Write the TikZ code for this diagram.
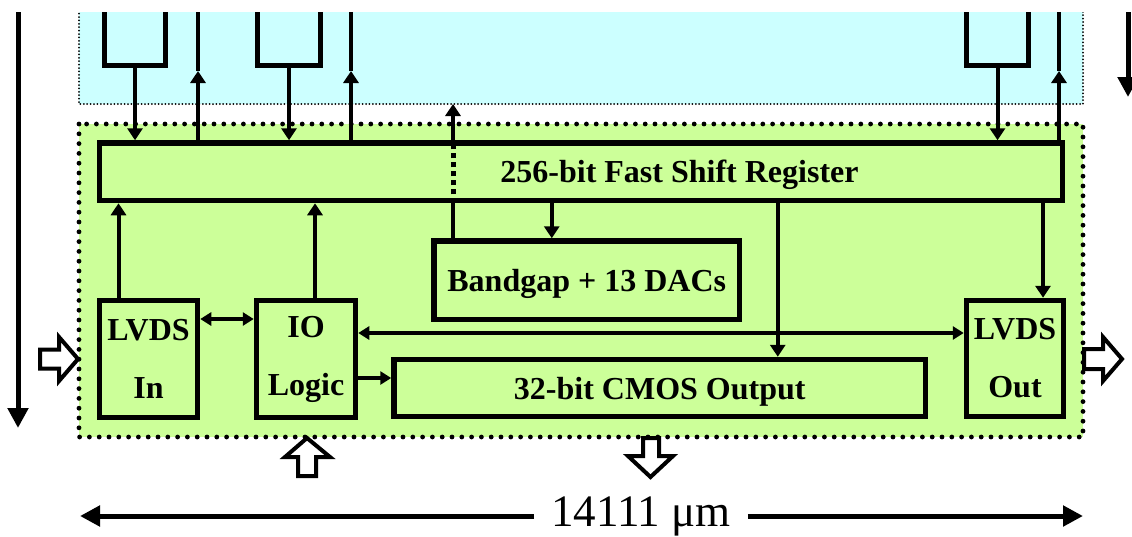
\documentclass[tikz,border=0pt]{standalone}
\usepackage{fontspec}
\setmainfont{Liberation Serif}
\usepackage{xcolor}
\usetikzlibrary{arrows.meta}

\definecolor{chipcyan}{HTML}{CCFFFF}
\definecolor{chipgreen}{HTML}{CCFF99}

\begin{document}
\begin{tikzpicture}[
  x=1pt, y=-1pt,
  font=\fontsize{32}{58}\selectfont\bfseries,
  blk/.style={rectangle, draw, line width=5.5pt, fill=chipgreen, inner sep=0pt, align=center},
  one/.style={text height=22pt, text depth=0pt},
  pix/.style={rectangle, draw, line width=5.5pt, fill=chipcyan, minimum height=80pt},
  link/.style={line width=4pt},
  arrow/.style={-{Triangle[length=12pt, width=15pt]}, line width=4pt},
  sarrow/.style={-{Triangle[length=11pt, width=13pt]}, line width=3.5pt},
  dbl/.style={{Triangle[length=11pt, width=13pt]}-{Triangle[length=11pt, width=13pt]}, line width=3.5pt},
  bigarrow/.style={-{Triangle[length=20pt, width=20pt]}, line width=5pt},
  hollow/.style={draw, line width=4pt, fill=white, miter limit=10},
  cyandots/.style={line width=2pt, line cap=round, dash pattern=on 0pt off 3.4pt},
  greendots/.style={line width=4.8pt, line cap=round, dash pattern=on 0pt off 9.8pt},
]

\useasboundingbox (0,0) rectangle (1132,536);

% pixel area, cut at the top
\begin{scope}
  \clip (0,12) rectangle (1132,536);
  \fill[chipcyan] (79,0) rectangle (1083,104);
  \draw[cyandots] (79,0) -- (79,104) -- (1083,104) -- (1083,0);
  \node[pix, minimum width=61pt] (pix1) at (135,25.5) {};
  \node[pix, minimum width=63pt] (pix2) at (289,25.5) {};
  \node[pix, minimum width=62pt] (pix3) at (997.5,25.5) {};
\end{scope}

% periphery
\fill[chipgreen] (79,124) rectangle (1083,437);
\draw[greendots] (79,124) rectangle (1083,437);

\node[blk, minimum width=963pt, minimum height=57.5pt] (reg) at (581,171.75) {};
\node[one, inner sep=0pt] (reglbl) at ([xshift=98.5pt]reg.center) {256-bit Fast Shift Register};
\node[blk, one, minimum width=305.5pt, minimum height=78.5pt] (bg) at (586.75,280.25) {Bandgap + 13 DACs};
\node[blk, one, minimum width=531.5pt, minimum height=57pt] (cmos) at (659.75,388) {32-bit CMOS Output};
\node[blk, minimum width=98pt, minimum height=117pt] (lvdsin) at (148.5,359) {LVDS\\In};
\node[blk, minimum width=99pt, minimum height=117pt] (iolog) at (306,359) {IO\\Logic};
\node[blk, minimum width=97pt, minimum height=116pt] (lvdsout) at (1015,358.5) {LVDS\\Out};

\foreach \p in {pix1,pix2,pix3}
  \draw[arrow] (\p.south) -- (\p.south |- reg.north);

\foreach \x/\n in {198/1,351/2,1059/3} {
  \coordinate (out\n) at (\x,71);
  \coordinate (top\n) at (\x,12);
}
\foreach \n in {1,2,3} {
  \draw[arrow] (reg.north -| out\n) -- (out\n);
  \draw[link] (out\n) -- (top\n);
}

\coordinate (dacup) at (453,104);
\draw[link] (bg.north -| dacup) -- (reg.south -| dacup);
\draw[line width=5pt, dash pattern=on 5pt off 4pt] (reg.south -| dacup) -- (reg.north -| dacup);
\draw[arrow] (reg.north -| dacup) -- (dacup);

\draw[arrow] ([xshift=-35pt]bg.north |- reg.south) -- ([xshift=-35pt]bg.north);
\draw[arrow] ([xshift=118pt]cmos.north |- reg.south) -- ([xshift=118pt]cmos.north);
\draw[arrow] ([xshift=28pt]lvdsout.north |- reg.south) -- ([xshift=28pt]lvdsout.north);
\draw[arrow] ([xshift=-30pt]lvdsin.north) -- ([xshift=-30pt]lvdsin.north |- reg.south);
\draw[arrow] ([xshift=9pt]iolog.north) -- ([xshift=9pt]iolog.north |- reg.south);

\draw[dbl] ([yshift=40pt]lvdsin.east) -- ([yshift=40pt]lvdsin.east -| iolog.west);
\draw[dbl] ([yshift=26pt]iolog.east) -- ([yshift=26pt]iolog.east -| lvdsout.west);
\draw[sarrow] ([yshift=-19pt]iolog.east) -- ([yshift=-19pt]iolog.east -| cmos.west);

% pads
\draw[hollow] (40,349.5) -- (59,349.5) -- (59,337) -- (78,359) -- (59,381) -- (59,368.5) -- (40,368.5) -- cycle;
\draw[hollow] (1084,349) -- (1103,349) -- (1103,337) -- (1122,359) -- (1103,381) -- (1103,369) -- (1084,369) -- cycle;
\draw[hollow] (298,476) -- (298,457) -- (285,457) -- (307,438) -- (330,457) -- (316,457) -- (316,476) -- cycle;
\draw[hollow] (643,438) -- (643,456) -- (628,456) -- (650.5,477) -- (673,456) -- (659,456) -- (659,438) -- cycle;

% edges of the sketch
\coordinate (scanT) at (18,12);
\coordinate (scanB) at (18,428);
\coordinate (colT) at (1128,12);
\coordinate (colB) at (1128,97);
\draw[bigarrow] (scanT) -- (scanB);
\draw[bigarrow] (colT) -- (colB);

\coordinate (dimL) at (80,516);
\coordinate (dimR) at (1083,516);
\node[font=\fontsize{45}{45}\selectfont\mdseries, fill=white, inner xsep=17pt, inner ysep=0pt, text height=31pt, text depth=0pt] (width) at (641,511) {14111 μm};
\draw[bigarrow] (width.west |- dimL) -- (dimL);
\draw[bigarrow] (width.east |- dimR) -- (dimR);

\end{tikzpicture}
\end{document}
